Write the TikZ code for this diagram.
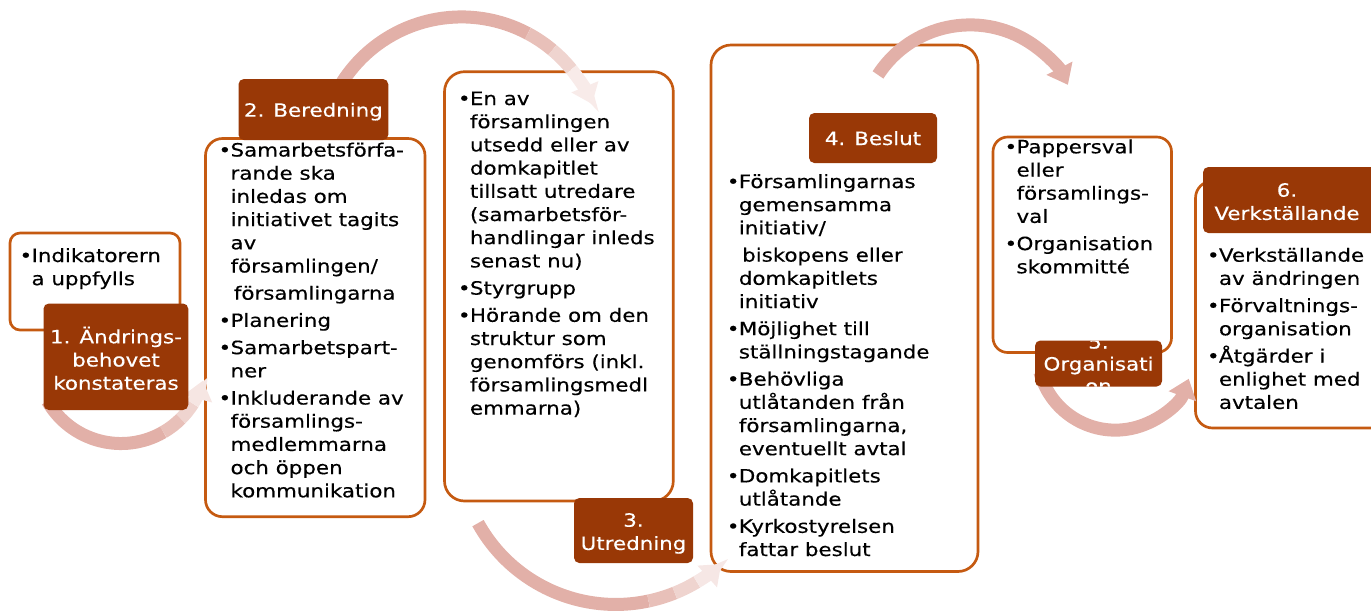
\documentclass[tikz,border=0pt]{standalone}
\usepackage{fontspec}
\setmainfont{DejaVu Sans}[FakeStretch=1.17,FakeBold=0.4]
\usetikzlibrary{arrows.meta}
\definecolor{borderc}{RGB}{197,90,17}
\definecolor{labelc}{RGB}{153,56,6}
\definecolor{arrowc}{RGB}{226,176,168}
\newcommand\bodyfont{\fontsize{13.7pt}{17.4pt}\selectfont}
\newcommand\bul{\makebox[9pt][l]{\textbullet}}
\newcommand\ind{\hspace*{9pt}}
\newcommand\blk[1]{\parbox[t]{260pt}{\bodyfont\raggedright #1}}
\newcommand\lbl[1]{\parbox[t]{160pt}{\bodyfont\centering #1}}
\begin{document}
\begin{tikzpicture}[x=0.75pt,y=-0.75pt,
  wbox/.style={draw=borderc, line width=2pt, fill=white},
  lbox/.style={fill=labelc, rounded corners=4pt},
  seg/.style={draw=#1, line width=9.75pt},
  seg/.default=arrowc,
  arr/.style={draw=#1, line width=9.75pt, -{Triangle[width=21pt,length=14pt]}},
  arr/.default=arrowc,
  btxt/.style={anchor=base west, inner sep=0pt, text=black},
  ltxt/.style={anchor=base, inner sep=0pt, text=white}]
\useasboundingbox (0,0) rectangle (1371,612);

% white boxes
\draw[wbox, rounded corners=7.5pt] (10,233) rectangle (180,330);
\draw[wbox, rounded corners=12.75pt] (205.5,138.5) rectangle (425,516.7);
\draw[wbox, rounded corners=15pt] (444.5,71.7) rectangle (673.3,501);
\draw[wbox, rounded corners=15pt] (711,45) rectangle (978,571.5);
\draw[wbox, rounded corners=11pt] (993,137) rectangle (1171.5,352.5);
\draw[wbox, rounded corners=12.75pt] (1195.5,181) rectangle (1395,428);

% box texts
\node[btxt] (t1) at (19.3,262) {\blk{\bul Indikatorern\\ \ind a uppfylls}};
\node[btxt] (t2) at (218.3,156.5) {\blk{\bul Samarbetsförfa-\\ \ind rande ska\\ \ind inledas om\\ \ind initiativet tagits\\ \ind av\\ \ind församlingen/\\[3pt] \ind\hspace*{2.5pt}församlingarna\\[3pt] \bul Planering\\[3pt] \bul Samarbetspart-\\ \ind ner\\[3pt] \bul Inkluderande av\\ \ind församlings-\\ \ind medlemmarna\\ \ind och öppen\\ \ind kommunikation}};
\node[btxt] (t3) at (457.7,105) {\blk{\bul En av\\ \ind församlingen\\ \ind utsedd eller av\\ \ind domkapitlet\\ \ind tillsatt utredare\\ \ind (samarbetsför-\\ \ind handlingar inleds\\ \ind senast nu)\\[3pt] \bul Styrgrupp\\[3pt] \bul Hörande om den\\ \ind struktur som\\ \ind genomförs (inkl.\\ \ind församlingsmedl\\ \ind emmarna)}};
\node[btxt] (t4) at (726.6,188) {\blk{\bul Församlingarnas\\ \ind gemensamma\\ \ind initiativ/\\[3pt] \ind\hspace*{2.5pt}biskopens eller\\ \ind domkapitlets\\ \ind initiativ\\[3pt] \bul Möjlighet till\\ \ind ställningstagande\\[3pt] \bul Behövliga\\ \ind utlåtanden från\\ \ind församlingarna,\\ \ind eventuellt avtal\\[3pt] \bul Domkapitlets\\ \ind utlåtande\\[3pt] \bul Kyrkostyrelsen\\ \ind fattar beslut}};
\node[btxt] (t5) at (1004.3,153.3) {\blk{\bul Pappersval\\ \ind eller\\ \ind församlings-\\ \ind val\\[3pt] \bul Organisation\\ \ind skommitté}};
\node[btxt] (t6) at (1206.7,261.7) {\blk{\bul Verkställande\\ \ind av ändringen\\[3pt] \bul Förvaltnings-\\ \ind organisation\\[3pt] \bul Åtgärder i\\ \ind enlighet med\\ \ind avtalen}};

% circular arrows (1->2, 2->3, 3->4 fade towards their heads)
\coordinate (s12) at (47.5,401.1);
\draw[seg] (s12) arc[start angle=210, end angle=300, radius=63.6pt] coordinate (m12a);
\draw[seg=arrowc!80] (m12a) arc[start angle=300, end angle=315, radius=63.6pt] coordinate (m12b);
\draw[seg=arrowc!55] (m12b) arc[start angle=315, end angle=328, radius=63.6pt] coordinate (m12c);
\draw[arr=arrowc!32] (m12c) arc[start angle=328, end angle=345, radius=63.6pt];

\coordinate (s23) at (328.5,110.0);
\draw[seg] (s23) arc[start angle=160, end angle=62, radius=106.1pt] coordinate (m23a);
\draw[seg=arrowc!80] (m23a) arc[start angle=62, end angle=50, radius=106.1pt] coordinate (m23b);
\draw[seg=arrowc!55] (m23b) arc[start angle=50, end angle=39, radius=106.1pt] coordinate (m23c);
\draw[arr=arrowc!25] (m23c) arc[start angle=39, end angle=22.6, radius=106.1pt];

\coordinate (s34) at (478.0,523.1);
\draw[seg] (s34) arc[start angle=208.9, end angle=282, radius=118.05pt] coordinate (m34a);
\draw[seg=arrowc!80] (m34a) arc[start angle=282, end angle=292, radius=118.05pt] coordinate (m34b);
\draw[seg=arrowc!55] (m34b) arc[start angle=292, end angle=301, radius=118.05pt] coordinate (m34c);
\draw[arr=arrowc!30] (m34c) arc[start angle=301, end angle=312, radius=118.05pt];

\coordinate (s45) at (878.0,74.9);
\draw[arr] (s45) arc[start angle=147, end angle=27, radius=82.35pt];
\coordinate (s56) at (1039.9,372.2);
\draw[arr] (s56) arc[start angle=195, end angle=340, radius=58.6pt];

% labels
\path[lbox] (43.5,303.5) rectangle (188.3,410);
\path[lbox] (238.5,79) rectangle (388.3,140);
\path[lbox] (574,498) rectangle (693,563);
\path[lbox] (809,113) rectangle (937,163);
\path[lbox] (1035,340.5) rectangle (1162,386.5);
\path[lbox] (1203,167) rectangle (1390,233);

\node[ltxt] (l1) at (116,343.3) {\lbl{1. Ändrings-\\behovet\\konstateras}};
\node[ltxt] (l2) at (313.4,116.7) {\lbl{2. Beredning}};
\node[ltxt] (l3) at (633.5,526.7) {\lbl{3.\\Utredning}};
\node[ltxt] (l4) at (873,145) {\lbl{4. Beslut}};
\begin{scope}
\clip[rounded corners=4pt] (1035,340.5) rectangle (1162,386.5);
\node[ltxt] (l5) at (1098.5,348.5) {\parbox[t]{160pt}{\fontsize{13.7pt}{16.5pt}\selectfont\centering 5.\\Organisati\\on}};
\end{scope}
\node[ltxt] (l6) at (1287,196.7) {\lbl{6.\\Verkställande}};
\end{tikzpicture}
\end{document}
